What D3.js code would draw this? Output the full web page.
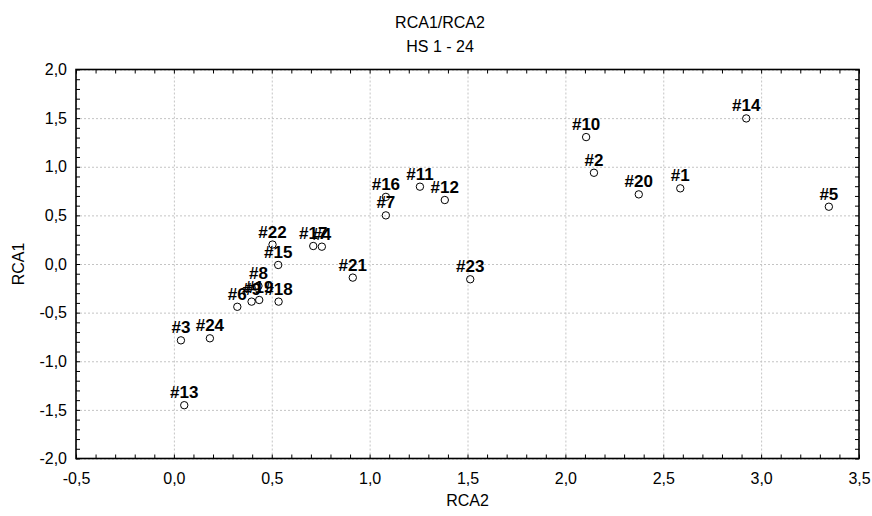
<!DOCTYPE html>
<html>
<head>
<meta charset="utf-8">
<script src="https://cdn.jsdelivr.net/npm/d3@7"></script>
<style>
  body { margin: 0; background: #fff; }
  svg { display: block; font-family: "Liberation Sans", Arial, sans-serif; }
</style>
</head>
<body>
<svg id="chart" width="872" height="516"></svg>
<script>
const labels = ["#1","#2","#3","#4","#5","#6","#7","#8","#9","#10","#11","#12",
                "#13","#14","#15","#16","#17","#18","#19","#20","#21","#22","#23","#24"];
const rca2 = [2.587, 2.146, 0.036, 0.756, 3.346, 0.324, 1.083, 0.432, 0.397, 2.106, 1.257, 1.384,
              0.053, 2.924, 0.533, 1.083, 0.712, 0.535, 0.436, 2.375, 0.914, 0.504, 1.514, 0.184];
const rca1 = [0.778, 0.938, -0.785, 0.178, 0.589, -0.44, 0.50, -0.226, -0.387, 1.305, 0.795, 0.658,
              -1.452, 1.497, -0.01, 0.69, 0.185, -0.387, -0.37, 0.716, -0.14, 0.20, -0.157, -0.764];
const xTicks = [-0.5, 0.0, 0.5, 1.0, 1.5, 2.0, 2.5, 3.0, 3.5];
const yTicks = [-2.0, -1.5, -1.0, -0.5, 0.0, 0.5, 1.0, 1.5, 2.0];
const titleLines = ["RCA1/RCA2", "HS 1 - 24"];
const xTitle = "RCA2", yTitle = "RCA1";

const svg = d3.select("#chart");
const L = 76, R = 859, T = 69.5, B = 458.5;
const x = d3.scaleLinear().domain([-0.5, 3.5]).range([L, R]);
const y = d3.scaleLinear().domain([-2, 2]).range([B, T]);
const fmt = d => d3.format(".1f")(d).replace(".", ",").replace("−", "-");
const xMinor = d3.range(-5, 36).map(i => i / 10);
const yMinor = d3.range(-20, 21).map(i => i / 10);

// grid
const grid = svg.append("g").attr("class", "grid");
grid.append("g").attr("transform", `translate(0,${B})`)
  .call(d3.axisBottom(x).tickValues(xTicks).tickSize(-(B - T)).tickFormat(""));
grid.append("g").attr("transform", `translate(${L},0)`)
  .call(d3.axisLeft(y).tickValues(yTicks).tickSize(-(R - L)).tickFormat(""));
grid.selectAll(".domain").remove();
grid.selectAll("line").attr("stroke", "#c4c4c4").attr("stroke-dasharray", "2,2").attr("stroke-width", 1);

// minor inward ticks on all sides
function ticks(axisGen, tr) {
  const g = svg.append("g").attr("transform", tr).call(axisGen);
  g.selectAll(".domain").remove();
  g.selectAll("line").attr("stroke", "#000").attr("stroke-width", 1);
  return g;
}
ticks(d3.axisBottom(x).tickValues(xMinor).tickSize(-4).tickFormat(""), `translate(0,${B})`);
ticks(d3.axisTop(x).tickValues(xMinor).tickSize(-4).tickFormat(""), `translate(0,${T})`);
ticks(d3.axisLeft(y).tickValues(yMinor).tickSize(-4).tickFormat(""), `translate(${L},0)`);
ticks(d3.axisRight(y).tickValues(yMinor).tickSize(-4).tickFormat(""), `translate(${R},0)`);

// tick labels
const xl = svg.append("g").attr("transform", `translate(0,${B})`)
  .call(d3.axisBottom(x).tickValues(xTicks).tickSize(0).tickPadding(14).tickFormat(fmt));
xl.select(".domain").remove();
xl.selectAll("text").attr("font-size", 16).attr("fill", "#000")
  .attr("font-family", "Liberation Sans, Arial, sans-serif");
const yl = svg.append("g").attr("transform", `translate(${L},0)`)
  .call(d3.axisLeft(y).tickValues(yTicks).tickSize(0).tickPadding(9).tickFormat(fmt));
yl.select(".domain").remove();
yl.selectAll("text").attr("font-size", 16).attr("fill", "#000")
  .attr("font-family", "Liberation Sans, Arial, sans-serif");

// frame
svg.append("rect").attr("x", L).attr("y", T).attr("width", R - L).attr("height", B - T)
  .attr("fill", "none").attr("stroke", "#000").attr("stroke-width", 1.6);

// titles
svg.selectAll(".title").data(titleLines).enter().append("text")
  .attr("x", 440).attr("y", (d, i) => 28 + i * 24)
  .attr("text-anchor", "middle").attr("font-size", 16).text(d => d);
svg.append("text").attr("x", (L + R) / 2).attr("y", 506).attr("text-anchor", "middle")
  .attr("font-size", 16).text(xTitle);
svg.append("text").attr("transform", `translate(24,${(T + B) / 2}) rotate(-90)`)
  .attr("text-anchor", "middle").attr("font-size", 16).text(yTitle);

// points
const pts = labels.map((l, i) => ({ l, x: rca2[i], y: rca1[i] }));
svg.append("g").selectAll("circle").data(pts).enter().append("circle")
  .attr("cx", d => x(d.x)).attr("cy", d => y(d.y)).attr("r", 3.7)
  .attr("fill", "none").attr("stroke", "#000").attr("stroke-width", 1);
svg.append("g").selectAll("text").data(pts).enter().append("text")
  .attr("x", d => x(d.x)).attr("y", d => y(d.y) - 7)
  .attr("text-anchor", "middle").attr("font-size", 17).attr("font-weight", "bold")
  .text(d => d.l);
</script>
</body>
</html>
